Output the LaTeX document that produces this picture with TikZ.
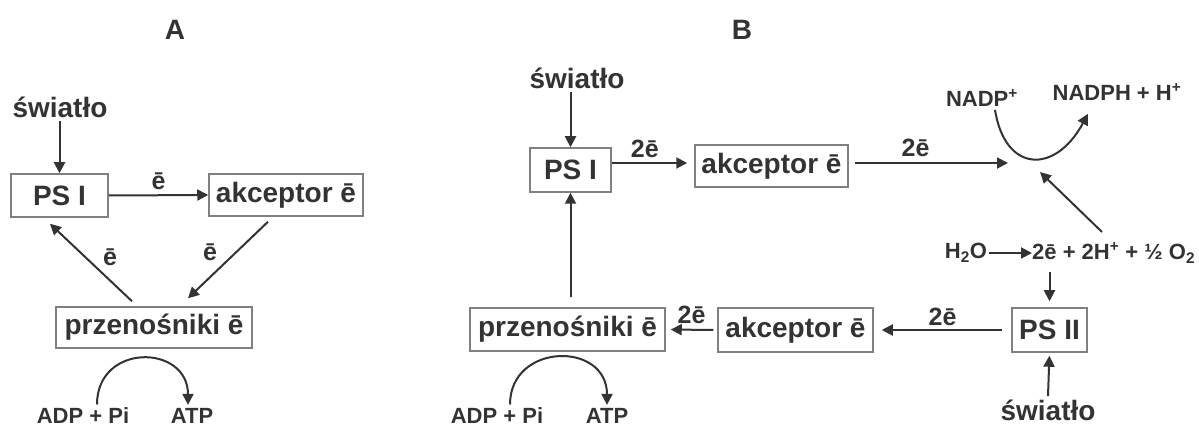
\documentclass[tikz,border=0pt]{standalone}
\usepackage{fontspec}
\setmainfont{Liberation Sans}
\usetikzlibrary{arrows.meta,calc}
\definecolor{ink}{HTML}{333333}
\definecolor{frame}{HTML}{808080}
\begin{document}
\begin{tikzpicture}[x=1pt,y=-1pt,
  every node/.style={text=ink, font=\bfseries\fontsize{28}{30}\selectfont},
  box/.style={draw=frame, line width=1.5pt, inner sep=0pt},
  lbl/.style={font=\bfseries\fontsize{25}{27}\selectfont},
  sm/.style={font=\bfseries\fontsize{22}{24}\selectfont},
  arr/.style={draw=ink, line width=2pt, -{Triangle[length=11pt,width=11pt]}},
]
\useasboundingbox (0,0) rectangle (1199,430);
% ---------- A ----------
\node (tA) at (175,30) {A};
\node (swA) at (60,107) {światło};
\node[box, minimum width=97pt, minimum height=43pt] (psIA) at (59.5,195.5) {PS I};
\node[box, minimum width=154pt, minimum height=42pt] (akcA) at (286,195) {akceptor ē};
\node[box, minimum width=196pt, minimum height=41pt] (przA) at (154,327.5) {przenośniki ē};
\node[sm] (adpA) at (83,416) {ADP + Pi};
\node[sm] (atpA) at (192,416) {ATP};

\draw[arr] (swA.south -| psIA.north) -- (psIA.north);
\draw[arr] (psIA.east) -- node[lbl, yshift=14pt] (eA1) {ē} (akcA.west);
\draw[arr] ([xshift=-18pt,yshift=-5pt]akcA.south) -- node[lbl, xshift=-18pt, yshift=8pt] (eA2) {ē} ([xshift=34pt,yshift=8pt]przA.north);
\draw[arr] ([xshift=-22pt,yshift=5pt]przA.north) -- node[lbl, xshift=19pt, yshift=5pt] (eA3) {ē} ([xshift=-9.5pt,yshift=-6pt]psIA.south);
\draw[arr] ([xshift=14pt]adpA.north) .. controls +(0,-62) and +(0,-61) .. ([xshift=-4pt]atpA.north);

% ---------- B ----------
\node (tB) at (742,30) {B};
\node (swB) at (577,78) {światło};
\node[box, minimum width=81pt, minimum height=44pt] (psIB) at (570.5,170) {PS I};
\node[box, minimum width=153pt, minimum height=42pt] (akcB) at (771.5,166) {akceptor ē};
\node[sm] (nadp) at (982,98) {NADP\textsuperscript{+}};
\node[sm] (nadph) at (1117,92) {NADPH + H\textsuperscript{+}};
\coordinate (jn) at (1008,163);
\coordinate (jnb) at (1040,172);
\node[sm, inner sep=2pt] (h2o) at (966,253) {H\textsubscript{2}O};
\node[sm, anchor=west, inner sep=0pt] (prod) at (1032,253) {2ē + 2H\textsuperscript{+} + ½ O\textsubscript{2}};
\coordinate (prodtop) at ([xshift=70pt,yshift=21pt]prod.west);
\node[box, minimum width=75pt, minimum height=44pt] (psII) at (1049.5,330) {PS II};
\node (swB2) at (1048,410) {światło};
\node[box, minimum width=155pt, minimum height=44pt] (akcB2) at (795.5,330) {akceptor ē};
\node[box, minimum width=195pt, minimum height=43pt] (przB) at (567.5,329.5) {przenośniki ē};
\node[sm] (adpB) at (497,416) {ADP + Pi};
\node[sm] (atpB) at (607,416) {ATP};

\draw[arr] (swB.south -| psIB.north) -- (psIB.north);
\draw[arr, shorten >=7pt] ([yshift=7pt]psIB.east) -- node[lbl, pos=0.4, yshift=14pt] (eB1) {2ē} ([yshift=3pt]akcB.west);
\draw[arr, shorten <=6pt] ([yshift=3pt]akcB.east) -- node[lbl, pos=0.42, yshift=15pt] (eB2) {2ē} (jn);
\draw[arr] ([xshift=13pt]nadp.south) .. controls +(10,63) and +(-33,61) .. ([xshift=-29pt,yshift=-10pt]nadph.south);
\draw[arr] (prodtop) -- (jnb);
\draw[arr] (h2o.east) -- (prod.west);
\draw[arr, shorten <=9pt, shorten >=6pt] (prod.south -| psII.north) -- (psII.north);
\draw[arr, shorten >=3pt] (swB2.north) -- (psII.south);
\draw[arr, shorten <=9pt, shorten >=8pt] (psII.west) -- node[lbl, yshift=13pt] (eB3) {2ē} (akcB2.east);
\draw[arr, shorten <=4pt, shorten >=5pt] (akcB2.west) -- node[lbl, yshift=15pt] (eB4) {2ē} (przB.east);
\draw[arr, shorten <=10pt] (psIB.south |- przB.north) -- (psIB.south);
\draw[arr] ([xshift=13pt]adpB.north) .. controls +(0,-62) and +(0,-64) .. (atpB.north);
\end{tikzpicture}
\end{document}
